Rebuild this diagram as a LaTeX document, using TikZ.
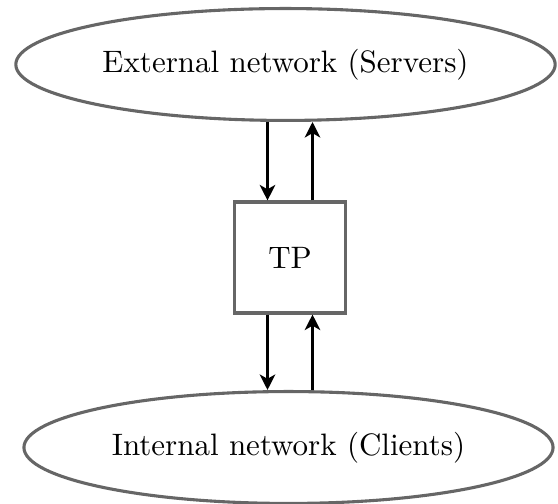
\documentclass[tikz,border=0pt]{standalone}
\usetikzlibrary{shapes.geometric,arrows.meta,calc}
\definecolor{edgegray}{rgb}{0.40,0.40,0.40}
\begin{document}
\begin{tikzpicture}[x=0.3226pt,y=-0.3226pt,
  net/.style={ellipse,draw=edgegray,line width=1pt,inner sep=0pt,
              minimum height=36.1pt},
  proxy/.style={rectangle,draw=edgegray,line width=1pt,inner sep=0pt,
                minimum size=35.8pt},
  flow/.style={line width=1.25pt,-{Stealth[length=5pt,width=5pt,inset=1.4pt]}}]
  \useasboundingbox (0,0) rectangle (558,504);

  \node[net,minimum width=174pt] (ext) at (285.5,64.5) {External network (Servers)};
  \node[net,minimum width=170.7pt] (int) at (288.5,447.5) {Internal network (Clients)};
  \node[proxy] (tp) at (290,257.5) {TP};

  % lanes of the two directions through the proxy
  \coordinate (dn) at ($(tp.center)+(-22.5,0)$);
  \coordinate (up) at ($(tp.center)+(22.5,0)$);

  \draw[flow] (dn |- ext.south) -- (dn |- tp.north);
  \draw[flow] (up |- tp.north) -- (up |- ext.south);
  \draw[flow] (dn |- tp.south) -- (dn |- int.north);
  \draw[flow] (up |- int.north) -- (up |- tp.south);
\end{tikzpicture}
\end{document}
